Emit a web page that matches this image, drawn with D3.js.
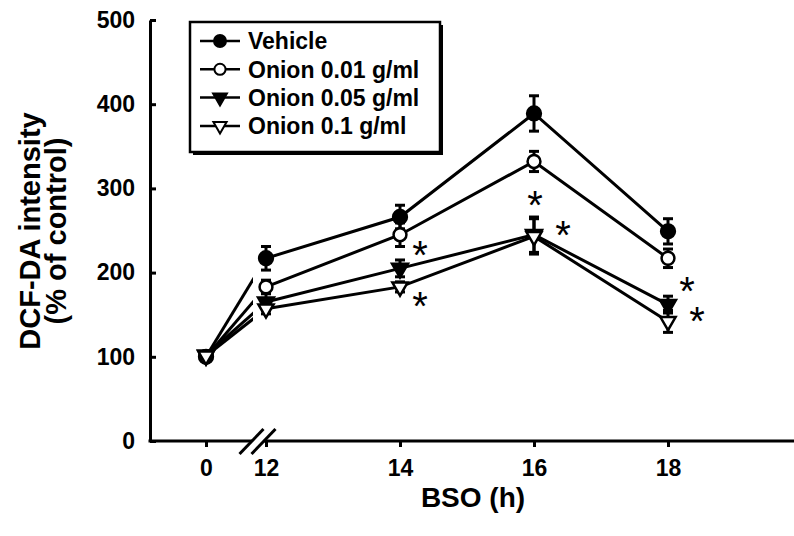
<!DOCTYPE html>
<html lang='en'>
<head>
  <meta charset='UTF-8'>
  <title>DCF-DA intensity after BSO</title>
  <style>
  body {
    margin: 0;
    background: #fff;
  }
  text {
    font-family: 'Liberation Sans', Arial, sans-serif;
    font-weight: bold;
    fill: #000;
  }
  .axis path, .axis line {
    stroke: #000;
    stroke-width: 3px;
  }
  .tick text {
    font-size: 23px;
  }
  </style>
  <script src="https://cdn.jsdelivr.net/npm/d3@7"></script>
</head>
<body>
  <script>

  // data (BSO time in hours, % of control)
  var hours = [0, 12, 14, 16, 18];
  var seriesNames = ['Vehicle', 'Onion 0.01 g/ml', 'Onion 0.05 g/ml', 'Onion 0.1 g/ml'];
  var vehicle = [100, 217, 266, 389, 249];
  var onion001 = [100, 183, 245, 332, 217];
  var onion005 = [102, 165, 205, 245, 162];
  var onion01 = [101, 157, 183, 243, 142];
  var vehicleErr = [4, 14, 14, 21, 15];
  var onion001Err = [3, 8, 14, 12, 11];
  var onion005Err = [3, 10, 10, 21, 10];
  var onion01Err = [3, 6, 6, 21, 13];
  var yTicks = [0, 100, 200, 300, 400, 500];
  var xTicks = [0, 12, 14, 16, 18];
  // significance marks: series index + hour
  var starSeries = [1, 3, 2, 3, 2, 3];
  var starHours = [14, 14, 16, 16, 18, 18];

  var values = [vehicle, onion001, onion005, onion01];
  var errors = [vehicleErr, onion001Err, onion005Err, onion01Err];

  var svgWidth = 794;
  var svgHeight = 536;

  var svg = d3.select('body').append('svg')
    .attr('width', svgWidth)
    .attr('height', svgHeight);

  // broken x axis: 0 sits on its own, 12..18 are linear
  var x = d3.scaleLinear().domain([0, 12, 18]).range([206, 266, 668]);
  var y = d3.scaleLinear().domain([0, 500]).range([441, 20]);

  var symbols = [
    { type: d3.symbolCircle, size: 150, fill: '#000', rot: 0 },
    { type: d3.symbolCircle, size: 130, fill: '#fff', rot: 0 },
    { type: d3.symbolTriangle, size: 110, fill: '#000', rot: 180 },
    { type: d3.symbolTriangle, size: 100, fill: '#fff', rot: 180 }
  ];

  var series = seriesNames.map(function (name, i) {
    return {
      name: name,
      sym: symbols[i],
      points: hours.map(function (h, j) {
        return { h: h, v: values[i][j], e: errors[i][j] };
      })
    };
  });

  // axes

  svg.append('g')
     .attr('class', 'axis')
     .attr('transform', 'translate(150,0)')
     .call(d3.axisLeft(y).tickValues(yTicks).tickSizeInner(-6).tickSizeOuter(0).tickPadding(15));

  var xAxis = svg.append('g')
     .attr('class', 'axis')
     .attr('transform', 'translate(0,441)')
     .call(d3.axisBottom(x).tickValues(xTicks).tickSizeInner(6).tickSizeOuter(0).tickPadding(13));
  xAxis.select('.domain').remove();

  svg.append('line')
     .attr('x1', 148.5).attr('x2', svgWidth)
     .attr('y1', y(0)).attr('y2', y(0))
     .attr('stroke', '#000').attr('stroke-width', 3);

  // axis break marks
  var bx = x(10.3);
  svg.append('polygon')
     .attr('points', [[bx - 10, y(0) + 4], [bx - 2, y(0) - 4], [bx + 10, y(0) - 4], [bx + 2, y(0) + 4]].join(' '))
     .attr('fill', '#fff');
  [-6, 6].forEach(function (k) {
    svg.append('line')
       .attr('x1', bx + k - 12).attr('y1', y(0) + 13)
       .attr('x2', bx + k + 12).attr('y2', y(0) - 12)
       .attr('stroke', '#000').attr('stroke-width', 3);
  });

  // axis titles

  svg.append('text')
     .attr('x', 473)
     .attr('y', 507)
     .attr('text-anchor', 'middle')
     .style('font-size', '28px')
     .text('BSO (h)');

  var yTitle = svg.append('text')
     .attr('transform', 'translate(0,231) rotate(-90)')
     .attr('text-anchor', 'middle')
     .style('font-size', '29px');
  yTitle.append('tspan').attr('x', 0).attr('y', 40).text('DCF-DA intensity');
  yTitle.append('tspan').attr('x', 0).attr('y', 66).text('(% of control)');

  // lines

  var line = d3.line()
    .x(function (d) { return x(d.h); })
    .y(function (d) { return y(d.v); });

  svg.append('clipPath').attr('id', 'gap')
     .append('rect').attr('x', 0).attr('y', 0).attr('width', x(9.4)).attr('height', svgHeight);

  series.forEach(function (s) {
    svg.append('path')
       .attr('d', line(s.points.slice(0, 2)))
       .attr('clip-path', 'url(#gap)')
       .attr('fill', 'none').attr('stroke', '#000').attr('stroke-width', 3);
    svg.append('path')
       .attr('d', line(s.points.slice(1)))
       .attr('fill', 'none').attr('stroke', '#000').attr('stroke-width', 3);
  });

  // error bars and markers

  series.forEach(function (s) {
    var g = svg.append('g');
    var eb = g.selectAll('.err').data(s.points).enter().append('g').attr('class', 'err');
    eb.append('line')
      .attr('x1', function (d) { return x(d.h); })
      .attr('x2', function (d) { return x(d.h); })
      .attr('y1', function (d) { return y(d.v - d.e); })
      .attr('y2', function (d) { return y(d.v + d.e); });
    eb.append('line')
      .attr('x1', function (d) { return x(d.h) - 5; })
      .attr('x2', function (d) { return x(d.h) + 5; })
      .attr('y1', function (d) { return y(d.v + d.e); })
      .attr('y2', function (d) { return y(d.v + d.e); });
    eb.append('line')
      .attr('x1', function (d) { return x(d.h) - 5; })
      .attr('x2', function (d) { return x(d.h) + 5; })
      .attr('y1', function (d) { return y(d.v - d.e); })
      .attr('y2', function (d) { return y(d.v - d.e); });
    eb.selectAll('line').attr('stroke', '#000').attr('stroke-width', 3);

    g.selectAll('.mark').data(s.points).enter().append('path')
     .attr('class', 'mark')
     .attr('d', d3.symbol().type(s.sym.type).size(s.sym.size))
     .attr('transform', function (d) {
       return 'translate(' + x(d.h) + ',' + y(d.v) + ') rotate(' + s.sym.rot + ')';
     })
     .attr('fill', s.sym.fill)
     .attr('stroke', '#000')
     .attr('stroke-width', 2.5);
  });

  // significance asterisks, offset from their point
  var starOffsets = [[20, 12], [20, 11], [1, -38], [29, -9], [19, -22], [29, -8]];

  starSeries.forEach(function (si, i) {
    var j = hours.indexOf(starHours[i]);
    svg.append('text')
       .attr('x', x(starHours[i]) + starOffsets[i][0])
       .attr('y', y(values[si][j]) + starOffsets[i][1] + 22)
       .attr('text-anchor', 'middle')
       .style('font-size', '40px')
       .style('font-weight', 'normal')
       .text('*');
  });

  // legend

  var legend = svg.append('g').attr('transform', 'translate(190,22)');
  legend.append('rect')
        .attr('x', 3).attr('y', 3).attr('width', 250).attr('height', 130)
        .attr('fill', '#000');
  legend.append('rect')
        .attr('width', 250).attr('height', 130)
        .attr('fill', '#fff').attr('stroke', '#000').attr('stroke-width', 2.5);

  var row = legend.selectAll('.row').data(series).enter().append('g')
        .attr('class', 'row')
        .attr('transform', function (d, i) { return 'translate(0,' + (19 + i * 28.3) + ')'; });
  row.append('line')
     .attr('x1', 10).attr('x2', 50)
     .attr('stroke', '#000').attr('stroke-width', 2.5);
  row.append('path')
     .attr('d', function (d) { return d3.symbol().type(d.sym.type).size(d.sym.size * 0.75)(); })
     .attr('transform', function (d) { return 'translate(30,0) rotate(' + d.sym.rot + ')'; })
     .attr('fill', function (d) { return d.sym.fill; })
     .attr('stroke', '#000').attr('stroke-width', 2);
  row.append('text')
     .attr('x', 58)
     .attr('dy', '0.36em')
     .style('font-size', '23px')
     .text(function (d) { return d.name; });
  </script>
</body>
</html>
